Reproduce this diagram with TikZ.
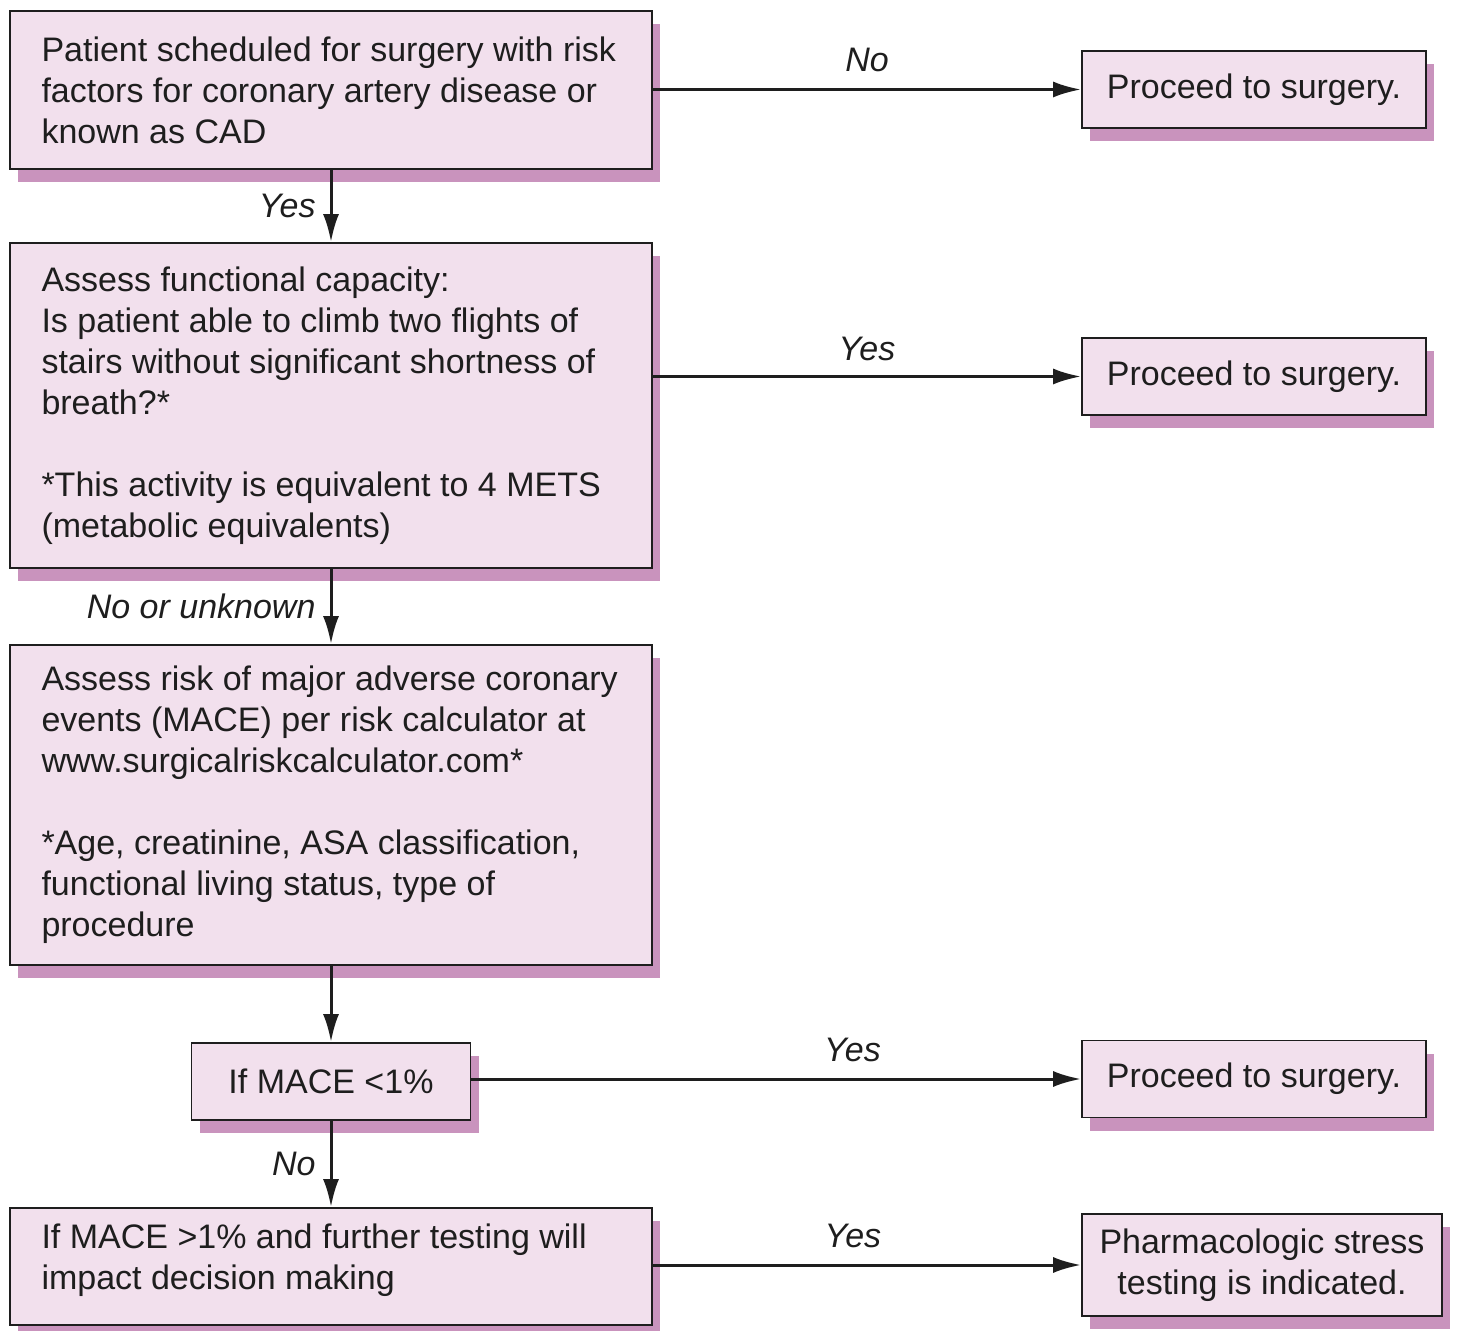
\documentclass[tikz,border=0pt]{standalone}
\usepackage{fontspec}
\setmainfont{Liberation Sans}
\usetikzlibrary{arrows.meta,shadows}
\definecolor{boxfill}{RGB}{242,224,237}
\definecolor{shadowc}{RGB}{201,147,189}
\definecolor{linec}{RGB}{30,30,30}
\begin{document}
\begin{tikzpicture}[x=0.5pt,y=-0.5pt,
  basebox/.style={draw=linec, line width=0.9pt, fill=boxfill,
    drop shadow={shadow xshift=4pt, shadow yshift=-6.5pt, fill=shadowc, opacity=1},
    font=\fontsize{17}{20.5}\selectfont, text=linec},
  bigbox/.style={basebox, inner sep=0pt, minimum width=321pt},
  boxtext/.style={anchor=west, align=left, inner sep=0pt, xshift=16pt,
    font=\fontsize{17}{20.5}\selectfont, text=linec},
  endbox/.style={basebox, align=center, inner sep=0pt, minimum width=172pt, minimum height=38.5pt},
  conn/.style={line width=1.5pt, draw=linec, -{Latex[length=14pt,width=8pt]}},
  lbl/.style={font=\fontsize{17}{18}\selectfont\itshape, text=linec, inner sep=2pt}
]
\fill[white] (0,0) rectangle (1458,1331);
\useasboundingbox (0,0) rectangle (1458,1331);

\node[bigbox, minimum height=79pt] (B1) at (331,90) {};
\node[boxtext] (T1) at (B1.west)
  {Patient scheduled for surgery with risk\\factors for coronary artery disease or\\known as CAD};
\node[bigbox, minimum height=162.5pt] (B2) at (331,405.5) {};
\node[boxtext] (T2) at (B2.west)
  {Assess functional capacity:\\Is patient able to climb two flights of\\stairs without significant shortness of\\breath?*\\[20.5pt]*This activity is equivalent to 4 METS\\(metabolic equivalents)};
\node[bigbox, minimum height=160pt] (B3) at (331,805) {};
\node[boxtext] (T3) at (B3.west)
  {Assess risk of major adverse coronary\\events (MACE) per risk calculator at\\www.surgicalriskcalculator.com*\\[20.5pt]*Age, creatinine, ASA classification,\\functional living status, type of\\procedure};
\node[basebox, align=center, inner sep=0pt, minimum width=139.5pt, minimum height=38.5pt] (M) at (331,1081.5)
  {If MACE \textless1\%};
\node[bigbox, minimum height=58.5pt] (B4) at (331,1266.5) {};
\node[boxtext, yshift=3pt] (T4) at (B4.west)
  {If MACE \textgreater1\% and further testing will\\impact decision making};

\node[endbox] (R1) at (1254,89.5) {Proceed to surgery.};
\node[endbox] (R2) at (1254,376.5) {Proceed to surgery.};
\node[endbox] (R3) at (1254,1079) {Proceed to surgery.};
\node[endbox, minimum width=180pt, minimum height=51pt] (R4) at (1262,1265)
  {Pharmacologic stress\\testing is indicated.};

\draw[conn] (R1.west -| B1.east) -- node[lbl, above=6pt] {No} (R1.west);
\draw[conn] (B1.south) -- node[lbl, left=5pt] {Yes} (B2.north);
\draw[conn] (R2.west -| B2.east) -- node[lbl, above=5pt] {Yes} (R2.west);
\draw[conn] (B2.south) -- node[lbl, left=5pt] {No or unknown} (B3.north);
\draw[conn] (B3.south) -- (M.north);
\draw[conn] (R3.west -| M.east) -- node[lbl, above=6pt, pos=0.625] {Yes} (R3.west);
\draw[conn] (M.south) -- node[lbl, left=5pt] {No} (B4.north);
\draw[conn] (R4.west -| B4.east) -- node[lbl, above=6pt, pos=0.467] {Yes} (R4.west);
\end{tikzpicture}
\end{document}
